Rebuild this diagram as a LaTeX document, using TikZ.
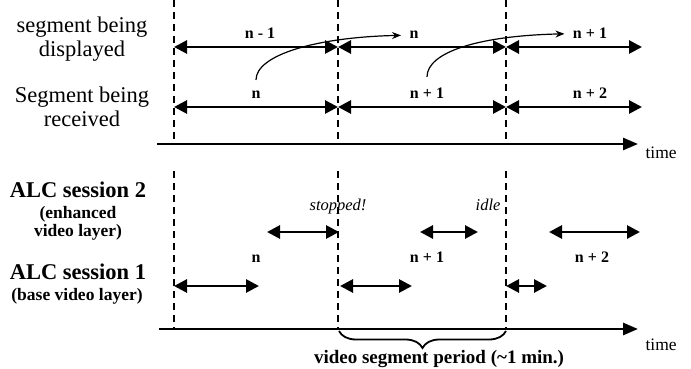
\documentclass[tikz,border=0pt]{standalone}
\usepackage{fontspec}
\setmainfont{Liberation Serif}
\usepackage{tikz}
\usetikzlibrary{positioning, arrows.meta, calc, decorations.pathreplacing}

\begin{document}
\begin{tikzpicture}[x=1pt, y=-1pt,
    seg/.style={line width=2.8pt, {Triangle[length=13pt, width=13pt]}-{Triangle[length=13pt, width=13pt]}},
    axis/.style={line width=2.8pt, -{Triangle[length=15pt, width=12pt]}},
    bound/.style={line width=1.4pt, dash pattern=on 7pt off 5pt},
    hop/.style={line width=1.2pt, -{Stealth[length=9pt, width=7pt]}, shorten >=5pt},
    big/.style={font=\fontsize{22.5}{24}\selectfont, align=center},
    sub/.style={font=\fontsize{17.5}{18}\selectfont\bfseries, align=center},
    num/.style={font=\fontsize{16}{18}\selectfont\bfseries, anchor=base},
    note/.style={font=\fontsize{16.5}{18}\selectfont\itshape, anchor=base}]

  \useasboundingbox (0,0) rectangle (691,369);

  % segment boundaries
  \foreach \x [count=\i] in {174, 338, 506} {
    \coordinate (top\i) at (\x,0);
    \coordinate (up\i) at (\x,144);
    \coordinate (lo\i) at (\x,171);
    \coordinate (bot\i) at (\x,329);
    \draw[bound] (top\i) -- (up\i);
    \draw[bound] (lo\i) -- (bot\i);
  }

  % row labels
  \node[big] (dispname) at (82,39) {segment being\\displayed};
  \node[big] (recvname) at (82,107) {Segment being\\received};
  \node[big, font=\fontsize{22.5}{24}\selectfont\bfseries, anchor=base] (alc2) at (78,197) {ALC session 2};
  \node[sub] (alc2sub) at (78,223.5) {(enhanced\\video layer)};
  \node[big, font=\fontsize{22.5}{24}\selectfont\bfseries, anchor=base] (alc1) at (78,279) {ALC session 1};
  \node[sub, anchor=base] (alc1sub) at (77,300) {(base video layer)};

  % upper part: display and reception
  \foreach \x [count=\i] in {174, 338, 506, 642} {
    \coordinate (disp\i) at (\x,47);
    \coordinate (recv\i) at (\x,107);
  }
  \foreach \i [evaluate=\i as \j using int(\i+1)] in {1,2,3} {
    \draw[seg] (disp\i) -- (disp\j);
    \draw[seg] (recv\i) -- (recv\j);
  }
  \node[num] (dn0) at (260,39) {n - 1};
  \node[num] (dn1) at (414,39) {n};
  \node[num] (dn2) at (590,39) {n + 1};
  \node[num] (rn1) at (256,99) {n};
  \node[num] (rn2) at (427,99) {n + 1};
  \node[num] (rn3) at (590,99) {n + 2};
  \draw[hop] ($(rn1.north)+(0,-8)$) .. controls +(0,-25) and +(-90,2) .. (dn1.west);
  \draw[hop] ($(rn2.north)+(0,-8)$) .. controls +(0,-25) and +(-90,2) .. (dn2.west);

  \coordinate (axa) at (157,144);
  \coordinate (axb) at (638,144);
  \draw[axis] (axa) -- (axb);
  \node[font=\fontsize{17.5}{18}\selectfont, anchor=base west] (timea) at (642,158) {time};

  % lower part: ALC sessions
  \coordinate (s2a) at (267,232);  \coordinate (s2b) at (339,232);
  \coordinate (s2c) at (420,232);  \coordinate (s2d) at (478,232);
  \coordinate (s2e) at (549,232);  \coordinate (s2f) at (640,232);
  \coordinate (s1a) at (174,286);  \coordinate (s1b) at (259,286);
  \coordinate (s1c) at (340,286);  \coordinate (s1d) at (412,286);
  \coordinate (s1e) at (506,286);  \coordinate (s1f) at (547,286);
  \draw[seg] (s2a) -- (s2b);
  \draw[seg] (s2c) -- (s2d);
  \draw[seg] (s2e) -- (s2f);
  \draw[seg] (s1a) -- (s1b);
  \draw[seg] (s1c) -- (s1d);
  \draw[seg] (s1e) -- (s1f);
  \node[note] (stop) at (338,210) {stopped!};
  \node[note, anchor=base east] (idle) at (504,210) {idle};
  \node[num] (sn1) at (256,262) {n};
  \node[num] (sn2) at (427,262) {n + 1};
  \node[num] (sn3) at (592,262) {n + 2};

  \coordinate (axc) at (159,329);
  \coordinate (axd) at (638,329);
  \draw[axis] (axc) -- (axd);
  \node[font=\fontsize{17.5}{18}\selectfont, anchor=base west] (timeb) at (642,350) {time};

  \coordinate (bra) at (339,331);
  \coordinate (brb) at (506,331);
  \draw[line width=1.8pt, decorate, decoration={brace, mirror, amplitude=17pt}] (bra) -- (brb);
  \node[font=\fontsize{19}{20}\selectfont\bfseries, anchor=base] (period) at (439,363) {video segment period (\textasciitilde 1 min.)};
\end{tikzpicture}
\end{document}
